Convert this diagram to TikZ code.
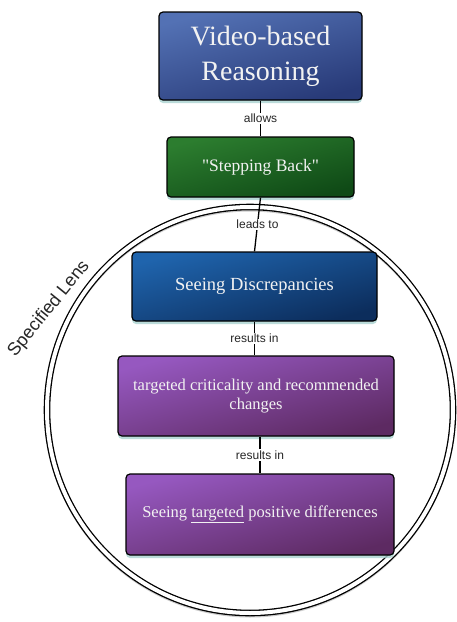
\documentclass[tikz,border=0pt]{standalone}
\usepackage{fontspec}
\setmainfont{Liberation Serif}
\setsansfont{Liberation Sans}
\newfontfamily\plainserif{Liberation Serif}
\usetikzlibrary{shadows}
\definecolor{bAtop}{HTML}{5371B4}
\definecolor{bAbot}{HTML}{283A78}
\definecolor{gTop}{HTML}{2C7D2F}
\definecolor{gBot}{HTML}{0F4A16}
\definecolor{dTop}{HTML}{1F64AD}
\definecolor{dBot}{HTML}{0C2D5C}
\definecolor{pTop}{HTML}{9658C0}
\definecolor{pBot}{HTML}{5D2A62}
\definecolor{glowc}{HTML}{A9D3D0}
\tikzset{
  box/.style={draw=black, line width=1.2pt, rounded corners=4pt,
    text=white!95!black, align=center, inner sep=2pt,
    drop shadow={shadow xshift=0pt, shadow yshift=-3pt, fill=glowc, opacity=0.8}},
  bluebox/.style={box, top color=bAtop, bottom color=bAbot, shading angle=15},
  greenbox/.style={box, top color=gTop, bottom color=gBot, shading angle=15},
  darkbox/.style={box, top color=dTop, bottom color=dBot, shading angle=15},
  purplebox/.style={box, top color=pTop, bottom color=pBot, shading angle=15},
  conn/.style={draw=black, line width=1.3pt},
  lab/.style={fill=white, font=\sffamily\fontsize{12}{12}\selectfont, inner sep=1.5pt, text=black!85},
  lens/.style={draw=black, line width=1.3pt, double=white, double distance=4pt}
}
\begin{document}
\begin{tikzpicture}[x=1pt,y=-1pt]
\useasboundingbox[fill=white] (0,0) rectangle (456,622);
% lens circle
\draw[black!20, line width=5pt] (250,412) circle[radius=203];
\path[lens] (250,410) circle[radius=203];
\node[rotate=51, font=\sffamily\fontsize{18}{18}\selectfont, text=black!85] (lensl) at (49,309) {Specified Lens};
% boxes
\node[bluebox, minimum width=203pt, minimum height=88pt,
  font=\fontsize{28}{35}\selectfont] (b1) at (260.5,56) {Video-based\\Reasoning};
\node[greenbox, minimum width=187pt, minimum height=60pt,
  font=\plainserif\fontsize{17.5}{20}\selectfont] (b2) at (260.5,167) {"Stepping Back"};
\node[darkbox, minimum width=245pt, minimum height=69pt,
  font=\fontsize{18.5}{22}\selectfont] (b3) at (254.5,286.5) {Seeing Discrepancies};
\node[purplebox, minimum width=276pt, minimum height=80pt,
  font=\fontsize{16.5}{19}\selectfont] (b4) at (256,396) {targeted criticality and recommended\\changes};
\node[purplebox, minimum width=268pt, minimum height=81pt,
  font=\fontsize{16.5}{19}\selectfont] (b5) at (260,514.5) {Seeing \underline{targeted} positive differences};
% connectors
\draw[conn] (b1.south) -- node[lab] {allows} (b2.north);
\draw[conn] (b2.south) -- node[lab, pos=0.5] {leads to} (b3.north);
\draw[conn] (b3.south) -- node[lab] {results in} (b3.south |- b4.north);
\draw[conn] (b5.north |- b4.south) -- node[lab] {results in} (b5.north);
\end{tikzpicture}
\end{document}
